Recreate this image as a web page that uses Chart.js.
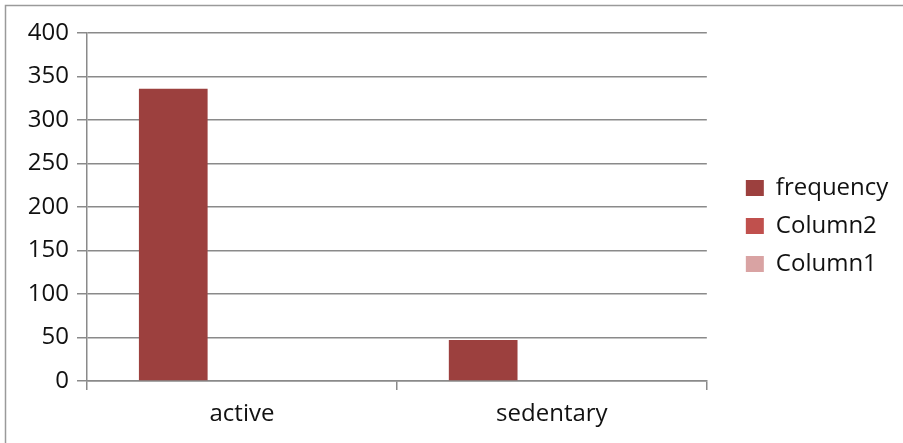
<!DOCTYPE html>
<html>
<head>
<meta charset="utf-8">
<script src="https://cdn.jsdelivr.net/npm/chart.js@4/dist/chart.umd.min.js"></script>
<style>
  html, body { margin: 0; padding: 0; background: #fff; }
  #wrap { position: relative; width: 903px; height: 443px; }
</style>
</head>
<body>
<div id="wrap"><canvas id="c" width="903" height="443"></canvas></div>
<script>
const categories = ['active', 'sedentary'];
const frequency = [336, 47];
const column2 = [0, 0];
const column1 = [0, 0];
const yTicks = [0, 50, 100, 150, 200, 250, 300, 350, 400];

const FONT = "'Open Sans', sans-serif";
const GRID = '#8a8a8a';

// Frame lines along the top and left edges of the chart
const framePlugin = {
  id: 'frame',
  afterDraw(chart) {
    const ctx = chart.ctx;
    ctx.save();
    ctx.strokeStyle = '#9a9a9a';
    ctx.lineWidth = 1.5;
    ctx.beginPath();
    ctx.moveTo(5.5, 443);
    ctx.lineTo(5.5, 5.5);
    ctx.lineTo(903, 5.5);
    ctx.stroke();
    ctx.restore();
  }
};

// Give the legend box some extra room on its right so the labels are not cut
const LEGEND_EXTRA = 14;
const legendRoomPlugin = {
  id: 'legendRoom',
  beforeLayout(chart) {
    const lg = chart.legend;
    if (lg && !lg._roomy) {
      const baseFit = lg.fit;
      lg.fit = function () {
        baseFit.call(this);
        this.width += LEGEND_EXTRA;
      };
      lg._roomy = true;
    }
  }
};

// Empty layout box that only reserves space
function spacer(position, size) {
  return {
    position,
    display: true,
    grid: { display: false, drawOnChartArea: false },
    border: { display: false },
    ticks: { display: false },
    afterFit(scale) {
      if (position === 'top' || position === 'bottom') scale.height = size;
      else scale.width = size;
    }
  };
}

function draw() {
  new Chart(document.getElementById('c'), {
    type: 'bar',
    data: {
      labels: categories,
      datasets: [
        { label: 'frequency', data: frequency, backgroundColor: '#9c403e', xAxisID: 'x', yAxisID: 'y' },
        { label: 'Column2', data: column2, backgroundColor: '#c0504d', xAxisID: 'x', yAxisID: 'y' },
        { label: 'Column1', data: column1, backgroundColor: '#d9a3a3', xAxisID: 'x', yAxisID: 'y' }
      ]
    },
    plugins: [framePlugin, legendRoomPlugin],
    options: {
      responsive: false,
      animation: false,
      devicePixelRatio: 1,
      layout: { padding: { top: 9, left: 0, right: 8, bottom: 0 } },
      datasets: { bar: { categoryPercentage: 0.665, barPercentage: 1.0 } },
      plugins: {
        tooltip: { enabled: false },
        legend: {
          position: 'right',
          align: 'center',
          labels: {
            boxWidth: 18,
            boxHeight: 16,
            padding: 14,
            color: '#111',
            font: { family: FONT, size: 24 }
          }
        }
      },
      scales: {
        x: {
          grid: { display: true, drawOnChartArea: false, offset: true, color: GRID, tickLength: 9, lineWidth: 1.5 },
          border: { display: true, color: GRID, width: 1.5 },
          ticks: { color: '#111', padding: 10, font: { family: FONT, size: 24 } },
          afterFit(scale) { scale.height = 62; }
        },
        y: {
          min: 0,
          max: 400,
          afterBuildTicks(scale) { scale.ticks = yTicks.map(v => ({ value: v })); },
          grid: { color: GRID, tickLength: 10, lineWidth: 1.5 },
          border: { display: true, color: GRID, width: 1.5 },
          ticks: { color: '#111', padding: 8, font: { family: FONT, size: 24 } },
          afterFit(scale) { scale.width = 87; }
        },
        gapTop: spacer('top', 24),
        gapRight: spacer('right', 25)
      }
    }
  });
}

if (document.fonts && document.fonts.load) {
  document.fonts.load("24px 'Open Sans'").then(draw, draw);
} else {
  draw();
}
</script>
</body>
</html>
